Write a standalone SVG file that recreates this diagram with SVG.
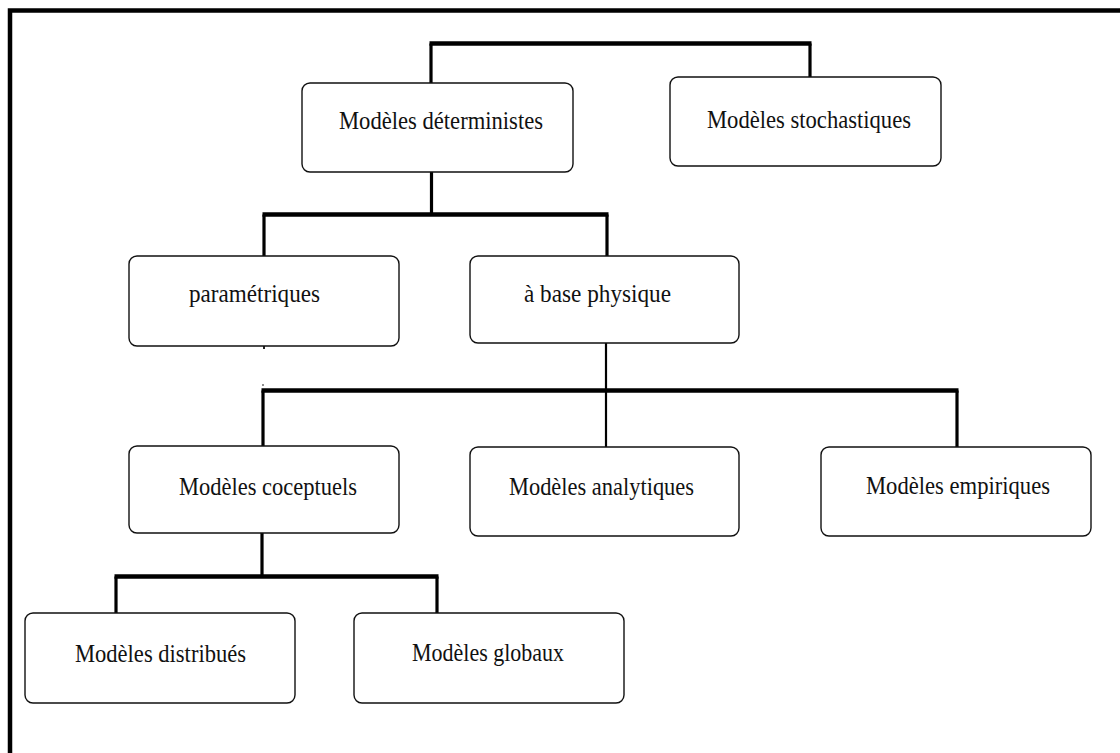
<svg xmlns="http://www.w3.org/2000/svg" width="1120" height="753" viewBox="0 0 1120 753">
<style>
.node rect{fill:#fff;stroke:#111;stroke-width:1.4}
.node text{font-family:"Liberation Serif","DejaVu Serif",serif;font-size:25px;fill:#111;text-anchor:start}
.conn path{fill:none;stroke:#000;stroke-linecap:butt;stroke-linejoin:miter}
.bar{stroke-width:4.5}
.v3{stroke-width:3.2}
.v2{stroke-width:2.2}
</style>
<rect x="0" y="0" width="1120" height="753" fill="#fff"/>
<rect x="10" y="10.5" width="1200" height="800" fill="none" stroke="#000" stroke-width="4.5"/>
<g id="connectors" class="conn">
<path class="v3" d="M431 83V43.5"/>
<path class="bar" d="M429.5 43.5H811.5"/>
<path class="v3" d="M810 43.5V77"/>
<path class="v3" d="M431.5 172V214.5"/>
<path class="bar" d="M262.5 214.5H608.5"/>
<path class="v3" d="M264 214.5V256"/>
<path class="v3" d="M607 214.5V256"/>
<path class="v2" d="M606 343V390.5"/>
<path class="bar" d="M261.5 390.5H958.5"/>
<path class="v3" d="M263 390.5V446"/>
<path class="v2" d="M606 390.5V447"/>
<path class="v3" d="M957 390.5V447"/>
<path class="v3" d="M262 533V576.5"/>
<path class="bar" d="M114.5 576.5H438.5"/>
<path class="v3" d="M116 576.5V613"/>
<path class="v3" d="M437 576.5V613"/>
</g>
<g id="marks" fill="#222">
<rect x="774" y="141" width="2" height="2"/>
<rect x="263" y="346" width="2" height="3"/>
<rect x="262.5" y="384" width="1" height="2"/>
<rect x="403" y="661" width="1.5" height="1.5"/>
</g>
<g id="n-deterministes" class="node">
<rect x="302" y="83" width="271" height="89" rx="8"/>
<text x="339" y="129" textLength="204" lengthAdjust="spacingAndGlyphs">Modèles déterministes</text>
</g>
<g id="n-stochastiques" class="node">
<rect x="670" y="77" width="271" height="89" rx="8"/>
<text x="707" y="128" textLength="204" lengthAdjust="spacingAndGlyphs">Modèles stochastiques</text>
</g>
<g id="n-parametriques" class="node">
<rect x="129" y="256" width="270" height="90" rx="8"/>
<text x="189" y="302" textLength="131" lengthAdjust="spacingAndGlyphs">paramétriques</text>
</g>
<g id="n-physique" class="node">
<rect x="470" y="256" width="269" height="87" rx="8"/>
<text x="524" y="302" textLength="147" lengthAdjust="spacingAndGlyphs">à base physique</text>
</g>
<g id="n-coceptuels" class="node">
<rect x="129" y="446" width="270" height="87" rx="8"/>
<text x="179" y="495" textLength="178" lengthAdjust="spacingAndGlyphs">Modèles coceptuels</text>
</g>
<g id="n-analytiques" class="node">
<rect x="470" y="447" width="269" height="89" rx="8"/>
<text x="509" y="495" textLength="185" lengthAdjust="spacingAndGlyphs">Modèles analytiques</text>
</g>
<g id="n-empiriques" class="node">
<rect x="821" y="447" width="270" height="89" rx="8"/>
<text x="866" y="494" textLength="184" lengthAdjust="spacingAndGlyphs">Modèles empiriques</text>
</g>
<g id="n-distribues" class="node">
<rect x="25" y="613" width="270" height="90" rx="8"/>
<text x="75" y="662" textLength="171" lengthAdjust="spacingAndGlyphs">Modèles distribués</text>
</g>
<g id="n-globaux" class="node">
<rect x="354" y="613" width="270" height="90" rx="8"/>
<text x="412" y="661" textLength="152" lengthAdjust="spacingAndGlyphs">Modèles globaux</text>
</g>
</svg>
